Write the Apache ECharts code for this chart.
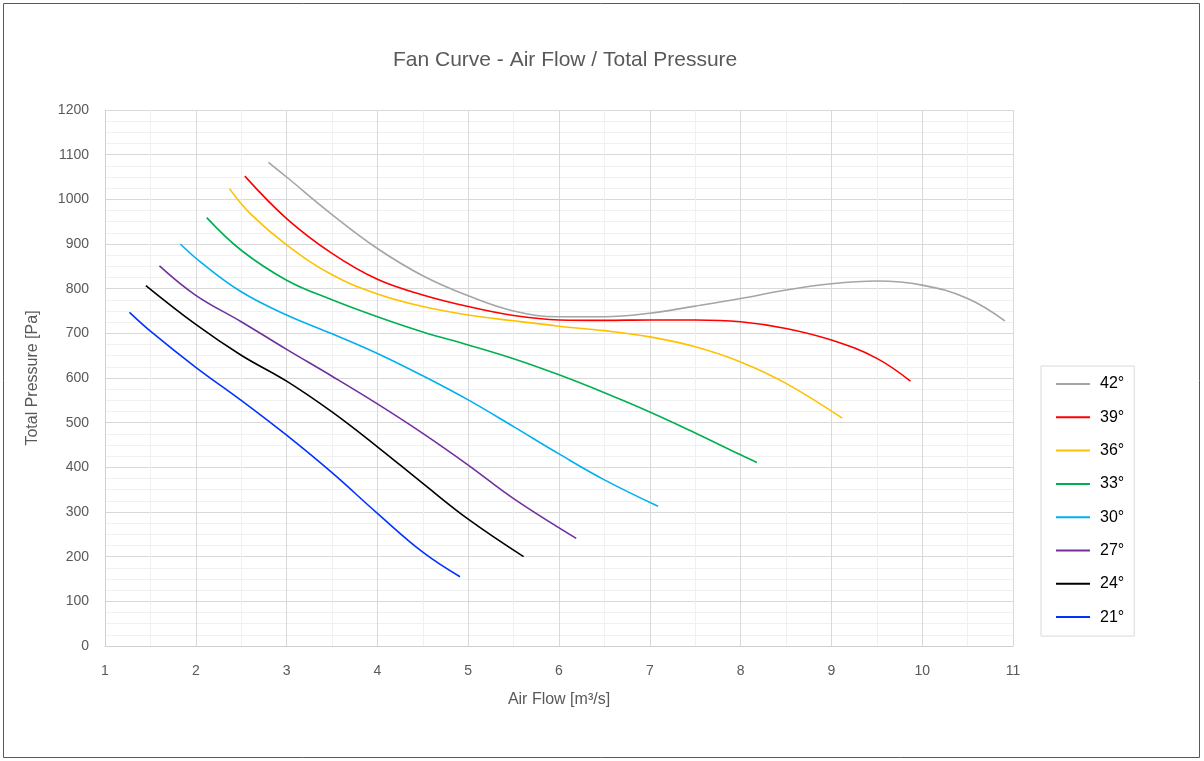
<!DOCTYPE html>
<html>
<head>
<meta charset="utf-8">
<script src="https://cdn.jsdelivr.net/npm/echarts@6/dist/echarts.min.js"></script>
<style>
html,body{margin:0;padding:0;background:#fff;}
#chart{width:1204px;height:761px;}
</style>
</head>
<body>
<div id="chart"></div>
<script>
// Data (x = air flow m³/s, y = total pressure Pa)
const seriesNames = ['42°', '39°', '36°', '33°', '30°', '27°', '24°', '21°'];
const xTicks = [1, 2, 3, 4, 5, 6, 7, 8, 9, 10, 11];
const yTicks = [0, 100, 200, 300, 400, 500, 600, 700, 800, 900, 1000, 1100, 1200];

const curve42 = [[2.8,1083],[3,1050],[3.5,966],[4,890],[4.5,829],[5,784],[5.5,750],[6,737],[6.5,737],[7,745],[7.5,761],[8,778],[8.5,797],[9,811],[9.5,817],[10,808],[10.5,778],[10.91,728]];
const curve39 = [[2.54,1052],[3,957],[3.5,879],[4,821],[4.5,786],[5,760],[5.5,740],[6,730],[6.5,729],[7,730],[7.5,730],[8,726],[8.5,711],[9,685],[9.5,644],[9.87,593]];
const curve36 = [[2.37,1024],[2.6,968],[3,898],[3.5,831],[4,788],[4.5,760],[5,741],[5.5,728],[6,716],[6.5,706],[7,692],[7.5,670],[8,636],[8.5,588],[9.12,510]];
const curve33 = [[2.12,959],[2.5,886],[3,819],[3.5,775],[4,737],[4.5,703],[5,674],[5.5,643],[6,607],[6.5,567],[7,524],[7.5,477],[8,428],[8.18,411]];
const curve30 = [[1.83,900],[2.05,860],[2.5,793],[3,741],[3.5,699],[4,655],[4.5,605],[5,551],[5.5,491],[6,430],[6.5,372],[7.09,313]];
const curve27 = [[1.6,851],[2,785],[2.5,726],[3,664],[3.5,604],[4,542],[4.5,476],[5,405],[5.5,330],[6.19,241]];
const curve24 = [[1.45,807],[2,720],[2.5,651],[3,593],[3.5,524],[4,446],[4.5,364],[5,284],[5.61,200]];
const curve21 = [[1.27,747],[1.5,705],[2,624],[2.5,550],[3,472],[3.5,388],[4,297],[4.5,210],[4.91,155]];

const curves = [curve42, curve39, curve36, curve33, curve30, curve27, curve24, curve21];
const colors = ['#a5a5a5', '#ff0000', '#ffc000', '#00b050', '#00b0f0', '#7030a0', '#000000', '#0033ff'];

const chart = echarts.init(document.getElementById('chart'), null, {renderer: 'canvas'});
const font = 'Liberation Sans, Arial, sans-serif';

chart.setOption({
  animation: false,
  backgroundColor: '#ffffff',
  color: colors,
  title: {
    text: 'Fan Curve - Air Flow / Total Pressure',
    left: 388,
    top: 45,
    textStyle: {fontFamily: font, fontSize: 21, fontWeight: 'normal', color: '#595959'}
  },
  graphic: [{
    type: 'rect',
    shape: {x: 3.5, y: 3.5, width: 1196, height: 754},
    style: {fill: 'none', stroke: '#595959', lineWidth: 1},
    silent: true
  }],
  legend: {
    orient: 'vertical',
    left: 1041,
    top: 366,
    data: seriesNames,
    icon: 'rect',
    itemWidth: 34,
    itemHeight: 2,
    itemGap: 14.3,
    padding: [8.5, 10, 9.5, 15],
    borderColor: '#d9d9d9',
    borderWidth: 1,
    textStyle: {fontFamily: font, fontSize: 16, color: '#000', lineHeight: 19, padding: [0, 0, 0, 5]}
  },
  grid: {left: 105, right: 191, top: 110, bottom: 115, containLabel: false},
  xAxis: {
    type: 'value',
    min: xTicks[0],
    max: xTicks[xTicks.length - 1],
    interval: 1,
    name: 'Air Flow [m³/s]',
    nameLocation: 'middle',
    nameGap: 46,
    nameTextStyle: {fontFamily: font, fontSize: 16, color: '#595959'},
    axisLine: {show: true, lineStyle: {color: '#d0d0d0', width: 1}},
    axisTick: {show: false},
    axisLabel: {fontFamily: font, fontSize: 14, color: '#595959', margin: 18, formatter: v => String(v)},
    splitLine: {show: true, lineStyle: {color: '#d9d9d9', width: 1}},
    minorTick: {show: false, splitNumber: 2},
    minorSplitLine: {show: true, lineStyle: {color: '#f0f0f0', width: 1}}
  },
  yAxis: {
    type: 'value',
    min: yTicks[0],
    max: yTicks[yTicks.length - 1],
    interval: 100,
    name: 'Total Pressure [Pa]',
    nameLocation: 'middle',
    nameGap: 64,
    nameRotate: 90,
    nameTextStyle: {fontFamily: font, fontSize: 16, color: '#595959'},
    axisLine: {show: true, lineStyle: {color: '#d0d0d0', width: 1}},
    axisTick: {show: false},
    axisLabel: {fontFamily: font, fontSize: 14, color: '#595959', margin: 16, formatter: v => String(v)},
    splitLine: {show: true, lineStyle: {color: '#d9d9d9', width: 1}},
    minorTick: {show: false, splitNumber: 4},
    minorSplitLine: {show: true, lineStyle: {color: '#f0f0f0', width: 1}}
  },
  series: seriesNames.map((name, i) => ({
    name: name,
    type: 'line',
    data: curves[i],
    smooth: 0.4,
    showSymbol: false,
    symbol: 'none',
    lineStyle: {color: colors[i], width: 1.6},
    itemStyle: {color: colors[i]}
  }))
});
</script>
</body>
</html>
